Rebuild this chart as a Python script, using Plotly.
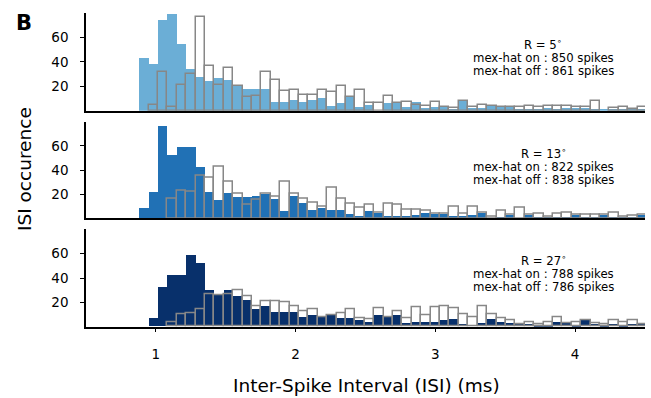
import numpy as np
import plotly.graph_objects as go

# ---------------- data ----------------
bin_first_edge = 0.88      # ms
bin_width = 0.0673         # ms

radii = ["5", "13", "27"]
spikes_on = [850, 822, 788]
spikes_off = [861, 838, 786]

counts_on_r5 = [43, 38, 74, 79, 55, 34, 28, 24, 27, 25, 20, 18, 18, 18, 7, 7, 9,
                7, 9, 10, 4, 6, 11, 3, 5, 0, 6, 6, 3, 7, 2, 3, 3, 1, 8, 2, 2, 4,
                3, 3, 1, 1, 1, 2, 1, 2, 2, 2, 1, 1, 1, 1, 1, 1]
counts_off_r5 = [0, 5, 32, 3, 21, 30, 77, 37, 21, 35, 20, 11, 12, 32, 25, 16, 17,
                 13, 13, 17, 15, 20, 11, 17, 6, 6, 12, 6, 7, 5, 4, 7, 3, 2, 8, 3,
                 5, 4, 3, 3, 3, 4, 3, 4, 4, 4, 3, 3, 8, 0, 2, 3, 1, 3]

counts_on_r13 = [9, 22, 77, 53, 59, 59, 43, 22, 15, 21, 18, 18, 19, 20, 16, 6, 19,
                 13, 7, 9, 7, 7, 4, 2, 6, 5, 2, 2, 2, 3, 5, 4, 4, 2, 2, 3, 5, 0,
                 1, 3, 0, 3, 1, 1, 1, 1, 3, 1, 1, 3, 1, 1, 1, 3]
counts_off_r13 = [0, 0, 0, 16, 23, 22, 35, 34, 43, 30, 20, 11, 15, 20, 18, 30, 20,
                  16, 13, 10, 25, 16, 12, 9, 11, 5, 12, 11, 7, 7, 6, 4, 4, 10, 4,
                  10, 5, 1, 6, 3, 9, 3, 4, 1, 4, 5, 3, 3, 3, 3, 5, 1, 2, 3]

counts_on_r27 = [0, 7, 32, 42, 42, 59, 52, 30, 27, 30, 25, 22, 14, 17, 12, 12, 12,
                 8, 9, 8, 9, 7, 7, 5, 4, 9, 8, 9, 3, 4, 4, 4, 5, 6, 2, 0, 3, 6,
                 4, 3, 2, 2, 1, 1, 4, 3, 1, 5, 2, 1, 2, 1, 2, 2]
counts_off_r27 = [0, 0, 0, 4, 10, 11, 14, 27, 26, 27, 30, 25, 17, 21, 21, 20, 17,
                  13, 14, 8, 9, 11, 14, 7, 6, 15, 8, 13, 7, 16, 9, 16, 17, 15, 10,
                  8, 17, 10, 7, 5, 2, 4, 2, 4, 8, 3, 4, 5, 3, 2, 5, 4, 5, 2]

on_counts = [counts_on_r5, counts_on_r13, counts_on_r27]
off_counts = [counts_off_r5, counts_off_r13, counts_off_r27]
fill_colors = ["#6baed6", "#2171b5", "#08306b"]

x_tick_vals = [1, 2, 3, 4]
y_tick_vals = [20, 40, 60]

# ---------------- layout geometry ----------------
W, H = 651, 398
ML, MR, MT, MB = 86, 6, 13, 71
PW = W - ML - MR
PH = H - MT - MB


def px_x(px):
    return (px - ML) / PW


def px_y(py):
    return (H - MB - py) / PH


# panel pixel extents (top, bottom)
panels_px = [(13.0, 110.7), (121.7, 218.3), (229.3, 326.7)]

fig = go.Figure()
n_bins = len(counts_on_r5)
centers = bin_first_edge + bin_width * (np.arange(n_bins) + 0.5)


def hide_zero(vals):
    return [v if v > 0 else None for v in vals]


for i in range(3):
    xa = "x" if i == 0 else f"x{i+1}"
    ya = "y" if i == 0 else f"y{i+1}"
    fig.add_trace(go.Bar(x=centers, y=hide_zero(on_counts[i]), width=bin_width,
                         marker=dict(color=fill_colors[i], line=dict(width=0)),
                         xaxis=xa, yaxis=ya, showlegend=False))
    fig.add_trace(go.Bar(x=centers, y=hide_zero(off_counts[i]), width=bin_width,
                         marker=dict(color="rgba(0,0,0,0)",
                                     line=dict(color="rgb(135,135,135)", width=1.5)),
                         xaxis=xa, yaxis=ya, showlegend=False))

font_family = "DejaVu Sans"
layout = dict(width=W, height=H,
              margin=dict(l=ML, r=MR, t=MT, b=MB),
              paper_bgcolor="white", plot_bgcolor="white",
              barmode="overlay", bargap=0,
              font=dict(family=font_family, color="black", size=13))

for i, (top, bot) in enumerate(panels_px):
    xk = "xaxis" if i == 0 else f"xaxis{i+1}"
    yk = "yaxis" if i == 0 else f"yaxis{i+1}"
    xa = "x" if i == 0 else f"x{i+1}"
    ya = "y" if i == 0 else f"y{i+1}"
    last = (i == 2)
    layout[xk] = dict(domain=[0, 1], anchor=ya, range=[0.5, 4.5],
                      showline=True, linecolor="black", linewidth=1.5,
                      showgrid=False, zeroline=False,
                      ticks="outside" if last else "", ticklen=4, tickwidth=1.2,
                      tickcolor="black",
                      tickvals=x_tick_vals, showticklabels=last,
                      tickfont=dict(size=13.5), ticklabelstandoff=10)
    layout[yk] = dict(domain=[px_y(bot), px_y(top)], anchor=xa, range=[0, 80],
                      showline=True, linecolor="black", linewidth=1.5,
                      showgrid=False, zeroline=False,
                      ticks="outside", ticklen=4, tickwidth=1.2, tickcolor="black",
                      tickvals=y_tick_vals, tickfont=dict(size=13.5),
                      ticklabelstandoff=9)

fig.update_layout(**layout)

annotations = []
for i, (top, bot) in enumerate(panels_px):
    lines = [f"R = {radii[i]}<sup>∘</sup>",
             f"mex-hat on : {spikes_on[i]} spikes",
             f"mex-hat off : {spikes_off[i]} spikes"]
    offsets = [31, 45, 58]
    for txt, off in zip(lines, offsets):
        annotations.append(dict(text=txt, xref="paper", yref="paper",
                                x=px_x(543), y=px_y(top + off),
                                xanchor="center", yanchor="middle",
                                showarrow=False,
                                font=dict(size=11.7, family=font_family, color="black")))

annotations.append(dict(text="Inter-Spike Interval (ISI) (ms)", xref="paper", yref="paper",
                        x=px_x(366), y=px_y(385), xanchor="center", yanchor="middle",
                        showarrow=False, font=dict(size=18.5, family=font_family)))
annotations.append(dict(text="ISI occurence", xref="paper", yref="paper",
                        x=px_x(24), y=px_y(169), xanchor="center", yanchor="middle",
                        textangle=-90, showarrow=False,
                        font=dict(size=18.5, family=font_family)))
annotations.append(dict(text="<b>B</b>", xref="paper", yref="paper",
                        x=px_x(23.5), y=px_y(22.5), xanchor="center", yanchor="middle",
                        showarrow=False, font=dict(size=21, family=font_family)))
fig.update_layout(annotations=annotations)

fig.write_html("out.html")
